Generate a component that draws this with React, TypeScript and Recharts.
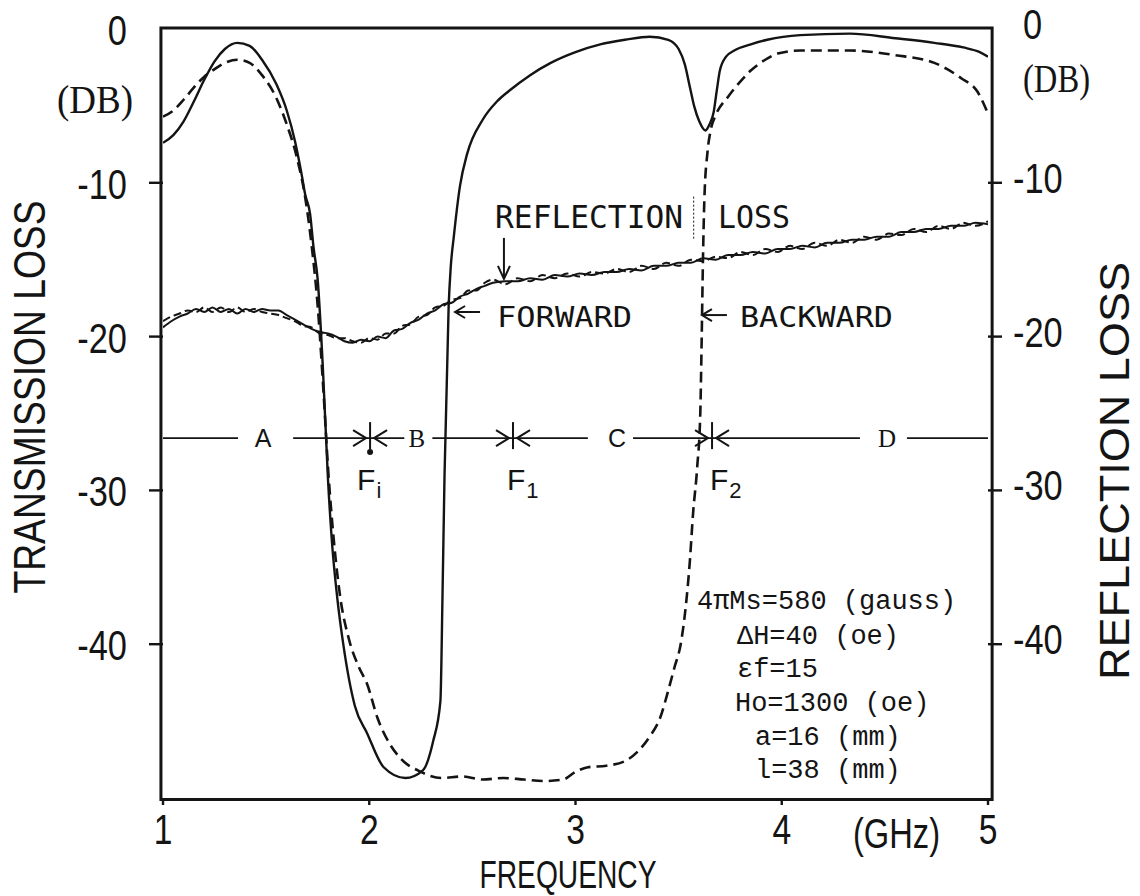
import React from 'react';
import { LineChart, Line, XAxis, YAxis, ReferenceArea, ReferenceLine, ReferenceDot } from 'recharts';

const INK = '#141414';
const SANS = "'Liberation Sans', 'DejaVu Sans', sans-serif";
const SERIF = "'Liberation Serif', 'DejaVu Serif', serif";
const TYPE = "'DejaVu Sans Mono', monospace";
const COURIER = "'Liberation Mono', 'DejaVu Sans Mono', monospace";

// axes
const freqTicks = [1, 2, 3, 4, 5];
const lossTicks = [0, -10, -20, -30, -40];

// transmission loss, forward wave (solid) [GHz, dB]
const forwardTransmission: [number, number][] = [
  [1.0, -7.4], [1.05, -6.9], [1.1, -6.0], [1.15, -4.7], [1.2, -3.3], [1.25, -2.1], [1.3, -1.3],
  [1.36, -0.9], [1.42, -1.1], [1.48, -2.0], [1.55, -3.6], [1.6, -5.3], [1.64, -7.3], [1.67, -9.3],
  [1.69, -10.8], [1.713, -12.0], [1.73, -14.2], [1.75, -16.3], [1.775, -22], [1.8, -29.3],
  [1.82, -33.5], [1.845, -37], [1.874, -40], [1.93, -44], [1.99, -45.8], [2.07, -48.0],
  [2.175, -48.7], [2.26, -48.2], [2.31, -46.3], [2.345, -43.7], [2.355, -37], [2.365, -29],
  [2.385, -18], [2.395, -15.5], [2.41, -13.5], [2.44, -10.2], [2.475, -8.1], [2.55, -5.9],
  [2.62, -4.7], [2.68, -4.0], [2.78, -3.0], [2.88, -2.2], [3.0, -1.5], [3.12, -1.0], [3.24, -0.7],
  [3.36, -0.5], [3.45, -0.7], [3.5, -1.3], [3.53, -2.3], [3.555, -3.8], [3.575, -5.0], [3.6, -6.0],
  [3.63, -6.6], [3.65, -6.2], [3.67, -5.4], [3.685, -4.0], [3.7, -2.7], [3.73, -1.8], [3.77, -1.4],
  [3.85, -1.0], [3.93, -0.7], [4.09, -0.4], [4.33, -0.3], [4.55, -0.6], [4.74, -0.9], [4.88, -1.2],
  [4.96, -1.5], [5.0, -1.8],
];

// transmission loss, backward wave (dashed)
const backwardTransmission: [number, number][] = [
  [1.0, -5.7], [1.05, -5.3], [1.1, -4.6], [1.15, -3.8], [1.2, -3.1], [1.24, -2.7], [1.3, -2.2],
  [1.36, -2.0], [1.42, -2.2], [1.48, -3.0], [1.55, -4.5], [1.6, -6.2], [1.65, -8.4], [1.69, -11.0],
  [1.72, -14], [1.75, -18], [1.78, -24], [1.8, -28.5], [1.83, -33.5], [1.86, -37], [1.9, -39.6],
  [1.95, -41.5], [1.99, -42.6], [2.04, -44.8], [2.1, -46.5], [2.15, -47.4], [2.25, -48.3],
  [2.35, -48.7], [2.45, -48.6], [2.55, -48.8], [2.65, -48.7], [2.75, -48.8], [2.85, -48.9],
  [2.94, -48.8], [3.0, -48.3], [3.06, -48.0], [3.15, -47.9], [3.24, -47.6], [3.3, -47.0],
  [3.36, -46.0], [3.41, -44.8], [3.45, -43.0], [3.48, -41.5], [3.51, -40.0], [3.535, -37.5],
  [3.555, -34.5], [3.57, -31.5], [3.59, -28.5], [3.605, -25], [3.612, -20], [3.618, -15],
  [3.625, -11], [3.64, -8], [3.655, -6.6], [3.68, -5.6], [3.74, -4.4], [3.8, -3.4], [3.85, -2.7],
  [3.92, -2.0], [3.98, -1.6], [4.09, -1.4], [4.33, -1.4], [4.55, -1.7], [4.74, -2.2], [4.8, -2.6],
  [4.87, -3.2], [4.95, -4.1], [5.0, -5.5],
];

// reflection loss, forward (solid) and backward (dashed)
const forwardReflection: [number, number][] = [
  [1.0, -19.4], [1.04, -19.0], [1.08, -18.7], [1.12, -18.5], [1.16, -18.2], [1.2, -18.4], [1.24, -18.1],
  [1.28, -18.4], [1.32, -18.2], [1.36, -18.5], [1.4, -18.2], [1.44, -18.4], [1.48, -18.2], [1.52, -18.3],
  [1.56, -18.3], [1.6, -18.6], [1.64, -18.9], [1.68, -19.2], [1.72, -19.5], [1.76, -19.7], [1.8, -19.8],
  [1.84, -20.0], [1.88, -20.3], [1.92, -20.4], [1.96, -20.2], [2.0, -20.3], [2.04, -20.0], [2.08, -20.1],
  [2.12, -19.6], [2.16, -19.5], [2.2, -19.1], [2.24, -18.9], [2.28, -18.5], [2.32, -18.3], [2.36, -17.9],
  [2.4, -17.8], [2.44, -17.4], [2.48, -17.2], [2.52, -16.9], [2.56, -16.7], [2.6, -16.5], [2.66, -16.4],
  [2.72, -16.4], [2.78, -16.2], [2.84, -16.3], [2.9, -16.0], [2.96, -16.1], [3.02, -15.9], [3.08, -16.0],
  [3.14, -15.8], [3.2, -15.8], [3.26, -15.6], [3.32, -15.7], [3.38, -15.4], [3.44, -15.4], [3.5, -15.2],
  [3.56, -15.2], [3.62, -14.9], [3.68, -15.0], [3.74, -14.7], [3.8, -14.7], [3.86, -14.5], [3.92, -14.6],
  [3.98, -14.3], [4.04, -14.3], [4.1, -14.1], [4.16, -14.2], [4.22, -13.9], [4.28, -13.9], [4.34, -13.7],
  [4.4, -13.7], [4.46, -13.5], [4.52, -13.5], [4.58, -13.2], [4.64, -13.2], [4.7, -13.0], [4.76, -13.0],
  [4.82, -12.8], [4.88, -12.8], [4.94, -12.6], [5.0, -12.7],
];

const backwardReflection: [number, number][] = [
  [1.0, -19.0], [1.04, -18.7], [1.08, -18.5], [1.12, -18.3], [1.16, -18.4], [1.2, -18.1], [1.24, -18.4],
  [1.28, -18.1], [1.32, -18.4], [1.36, -18.1], [1.4, -18.4], [1.44, -18.2], [1.48, -18.4], [1.52, -18.5],
  [1.56, -18.6], [1.6, -18.8], [1.64, -19.0], [1.68, -19.3], [1.72, -19.4], [1.76, -19.8], [1.8, -19.9],
  [1.84, -20.1], [1.88, -20.1], [1.92, -20.3], [1.96, -20.4], [2.0, -20.1], [2.04, -20.2], [2.08, -19.8],
  [2.12, -19.8], [2.16, -19.3], [2.2, -19.2], [2.24, -18.7], [2.28, -18.6], [2.32, -18.1], [2.36, -18.0],
  [2.4, -17.6], [2.44, -17.5], [2.48, -17.0], [2.52, -17.0], [2.56, -16.5], [2.6, -16.3], [2.66, -16.6],
  [2.72, -16.2], [2.78, -16.4], [2.84, -16.0], [2.9, -16.2], [2.96, -15.9], [3.02, -16.1], [3.08, -15.8],
  [3.14, -15.9], [3.2, -15.6], [3.26, -15.8], [3.32, -15.4], [3.38, -15.6], [3.44, -15.2], [3.5, -15.4],
  [3.56, -15.0], [3.62, -15.1], [3.68, -14.8], [3.74, -14.9], [3.8, -14.5], [3.86, -14.7], [3.92, -14.3],
  [3.98, -14.5], [4.04, -14.1], [4.1, -14.3], [4.16, -13.9], [4.22, -14.1], [4.28, -13.7], [4.34, -13.9],
  [4.4, -13.5], [4.46, -13.7], [4.52, -13.3], [4.58, -13.4], [4.64, -13.0], [4.7, -13.2], [4.76, -12.8],
  [4.82, -13.0], [4.88, -12.6], [4.94, -12.8], [5.0, -12.5],
];

// frequency bands A..D and boundary frequencies Fi, F1, F2
const bandLevel = -26.6;
const bandNames = ['A', 'B', 'C', 'D'];
const bandCentres = [1.485, 2.231, 3.201, 4.51];
const bandLines: [number, number][] = [
  [1.0, 1.364], [1.631, 2.004], [2.004, 2.17], [2.306, 2.697], [2.697, 3.06],
  [3.279, 3.662], [3.662, 4.379], [4.607, 5.0],
];
const boundaryFreqs = [2.004, 2.697, 3.662];
const boundarySubs = ['i', '1', '2'];

const paramLines = ['4πMs=580 (gauss)', 'ΔH=40 (oe)', 'εf=15', 'Ho=1300 (oe)', 'a=16 (mm)', 'l=38 (mm)'];

const toPoints = (pairs: [number, number][]) => pairs.map(([x, y]) => ({ x, y }));

const LeftTick = (p: any) => {
  const v = p.payload.value;
  return (
    <g>
      {v !== 0 && <line x1={p.x - 14} x2={p.x} y1={p.y} y2={p.y} stroke={INK} strokeWidth={2.4} />}
      <text transform={`translate(${p.x - 36},${p.y + 16}) scale(0.8,1)`} textAnchor="end"
        fontSize={43} fontFamily={SANS} fill={INK}>{String(v)}</text>
    </g>
  );
};

const RightTick = (p: any) => {
  const v = p.payload.value;
  return (
    <g>
      {v !== 0 && <line x1={p.x} x2={p.x + 14} y1={p.y} y2={p.y} stroke={INK} strokeWidth={2.4} />}
      <text transform={`translate(${p.x + (v === 0 ? 35 : 25)},${p.y + 10}) scale(0.8,1)`} textAnchor="start"
        fontSize={43} fontFamily={SANS} fill={INK}>{String(v)}</text>
    </g>
  );
};

const FreqTick = (p: any) => (
  <g>
    <line x1={p.x} x2={p.x} y1={p.y} y2={p.y + 7} stroke={INK} strokeWidth={2.4} />
    <text transform={`translate(${p.x},${p.y + 46}) scale(0.8,1)`} textAnchor="middle"
      fontSize={42} fontFamily={SANS} fill={INK}>{p.payload.value}</text>
  </g>
);

const note = (text: string, o: { dx?: number; dy?: number; size: number; family: string; len?: number; anchor?: string }) =>
  (p: any) => (
    <text x={p.cx + (o.dx ?? 0)} y={p.cy + (o.dy ?? 0)} fontSize={o.size} fontFamily={o.family}
      textAnchor={o.anchor ?? 'start'} fill={INK}
      textLength={o.len} lengthAdjust={o.len ? 'spacingAndGlyphs' : undefined}>{text}</text>
  );

const arrowDown = (len: number) => (p: any) => (
  <g stroke={INK} strokeWidth={2} fill="none">
    <line x1={p.cx} y1={p.cy - len} x2={p.cx} y2={p.cy} />
    <path d={`M${p.cx - 6},${p.cy - 13} L${p.cx},${p.cy} L${p.cx + 6},${p.cy - 13}`} />
  </g>
);

const arrowLeft = (len: number, label: string, dx: number, dy: number, width: number) => (p: any) => (
  <g>
    <g stroke={INK} strokeWidth={2} fill="none">
      <line x1={p.cx} y1={p.cy} x2={p.cx + len} y2={p.cy} />
      <path d={`M${p.cx + 10},${p.cy - 6} L${p.cx},${p.cy} L${p.cx + 10},${p.cy + 6}`} />
    </g>
    <text x={p.cx + dx} y={p.cy + dy} fontSize={28} fontFamily={TYPE} fill={INK}
      textLength={width} lengthAdjust="spacingAndGlyphs">{label}</text>
  </g>
);

const boundaryShape = (withDot: boolean) => (p: any) => (
  <g stroke={INK} strokeWidth={2} fill="none">
    <line x1={p.cx} y1={p.cy - 16} x2={p.cx} y2={p.cy + 11} />
    <path d={`M${p.cx - 17},${p.cy - 8} L${p.cx - 4},${p.cy} L${p.cx - 17},${p.cy + 8}`} />
    <path d={`M${p.cx + 17},${p.cy - 8} L${p.cx + 4},${p.cy} L${p.cx + 17},${p.cy + 8}`} />
    {withDot && <circle cx={p.cx} cy={p.cy + 14} r={3} fill={INK} stroke="none" />}
  </g>
);

const boundaryLabel = (sub: string, dx: number) => (p: any) => (
  <text x={p.cx + dx} y={p.cy + 52} fontSize={30} fontFamily={SANS} fill={INK}>
    F<tspan dx={1} dy={8} fontSize={22}>{sub}</tspan>
  </text>
);

const paramBlock = (p: any) => {
  const dx = [0, 40, 40, 38, 58, 58];
  const dy = [0, 35, 68, 102, 136, 169];
  return (
    <g>
      {paramLines.map((t, i) => (
        <text key={t} x={p.cx + dx[i]} y={p.cy + dy[i]} fontSize={27} fontFamily={COURIER} fill={INK}>{t}</text>
      ))}
    </g>
  );
};

const leftTitle = () => (
  <g>
    <text transform="translate(45,397) rotate(-90)" textAnchor="middle" fontSize={44} fontFamily={SANS} fill={INK}
      textLength={393} lengthAdjust="spacingAndGlyphs">TRANSMISSION LOSS</text>
    <text x={57} y={113} fontSize={40} fontFamily={SERIF} fill={INK} textLength={76}
      lengthAdjust="spacingAndGlyphs">(DB)</text>
  </g>
);

const rightTitle = () => (
  <g>
    <text transform="translate(1129,471) rotate(-90)" textAnchor="middle" fontSize={43} fontFamily={SANS} fill={INK}
      textLength={418} lengthAdjust="spacingAndGlyphs">REFLECTION LOSS</text>
    <text x={1023} y={92} fontSize={40} fontFamily={SERIF} fill={INK} textLength={67}
      lengthAdjust="spacingAndGlyphs">(DB)</text>
  </g>
);

const bottomTitle = () => (
  <g>
    <text x={568} y={887.5} textAnchor="middle" fontSize={38} fontFamily={SANS} fill={INK}
      textLength={177} lengthAdjust="spacingAndGlyphs">FREQUENCY</text>
    <text x={853} y={848} fontSize={42} fontFamily={SANS} fill={INK}
      textLength={87} lengthAdjust="spacingAndGlyphs">(GHz)</text>
  </g>
);

export default function App() {
  return (
    <div style={{ position: 'absolute', left: 0, top: 0, width: 1140, height: 896, background: '#fff' }}>
      <LineChart width={1140} height={896} margin={{ top: 29, right: 72, bottom: 38, left: 83 }}>
        <XAxis xAxisId="f" type="number" dataKey="x" domain={[1, 5]} ticks={freqTicks} interval={0}
          allowDataOverflow height={60} axisLine={false} tickLine={false} tickSize={0} tickMargin={0}
          tick={(p: any) => <FreqTick {...p} />} label={bottomTitle} />
        <YAxis yAxisId="left" type="number" domain={[-50, 0]} ticks={lossTicks} interval={0}
          allowDataOverflow width={80} axisLine={false} tickLine={false} tickSize={0} tickMargin={0}
          tick={(p: any) => <LeftTick {...p} />} label={leftTitle} />
        <YAxis yAxisId="right" orientation="right" type="number" domain={[-50, 0]} ticks={lossTicks} interval={0}
          allowDataOverflow width={80} axisLine={false} tickLine={false} tickSize={0} tickMargin={0}
          tick={(p: any) => <RightTick {...p} />} label={rightTitle} />

        <ReferenceArea xAxisId="f" yAxisId="left" x1={0.99} x2={5.02} y1={-50.1} y2={0.06} ifOverflow="visible"
          fill="none" stroke={INK} strokeWidth={3} />

        {bandLines.map(([a, b], i) => (
          <ReferenceLine key={`seg-${i}`} xAxisId="f" yAxisId="left"
            segment={[{ x: a, y: bandLevel }, { x: b, y: bandLevel }]} stroke={INK} strokeWidth={1.8} />
        ))}
        {bandNames.map((n, i) => (
          <ReferenceDot key={`band-${n}`} xAxisId="f" yAxisId="left" x={bandCentres[i]} y={bandLevel} r={1}
            shape={note(n, { dy: 9, size: 25, family: i % 2 ? SERIF : SANS, anchor: 'middle' })} />
        ))}
        {boundaryFreqs.map((f, i) => (
          <ReferenceDot key={`bnd-${i}`} xAxisId="f" yAxisId="left" x={f} y={bandLevel} r={1}
            shape={boundaryShape(i === 0)} />
        ))}
        {boundaryFreqs.map((f, i) => (
          <ReferenceDot key={`bl-${i}`} xAxisId="f" yAxisId="left" x={f} y={bandLevel} r={1}
            shape={boundaryLabel(boundarySubs[i], [-13, -6, -2][i])} />
        ))}

        <ReferenceDot xAxisId="f" yAxisId="left" x={2.61} y={-12.97} r={1}
          shape={note('REFLECTION', { size: 32, family: TYPE, len: 188 })} />
        <ReferenceDot xAxisId="f" yAxisId="left" x={3.691} y={-12.97} r={1}
          shape={note('LOSS', { size: 32, family: TYPE, len: 72 })} />
        <ReferenceLine xAxisId="f" yAxisId="left" segment={[{ x: 3.573, y: -10.9 }, { x: 3.573, y: -13.7 }]}
          stroke={INK} strokeWidth={1} strokeDasharray="2 2" />
        <ReferenceDot xAxisId="f" yAxisId="left" x={2.653} y={-16.25} r={1} shape={arrowDown(41)} />
        <ReferenceDot xAxisId="f" yAxisId="left" x={2.416} y={-18.4} r={1}
          shape={arrowLeft(25, 'FORWARD', 42, 15, 135)} />
        <ReferenceDot xAxisId="f" yAxisId="left" x={3.613} y={-18.6} r={1}
          shape={arrowLeft(25, 'BACKWARD', 38, 12, 153)} />
        <ReferenceDot xAxisId="f" yAxisId="left" x={3.589} y={-37.71} r={1} shape={paramBlock} />

        <Line xAxisId="f" yAxisId="left" data={toPoints(forwardReflection)} dataKey="y" type="monotone"
          stroke={INK} strokeWidth={2} dot={false} activeDot={false} isAnimationActive={false} />
        <Line xAxisId="f" yAxisId="left" data={toPoints(backwardReflection)} dataKey="y" type="monotone"
          stroke={INK} strokeWidth={2} strokeDasharray="8 4" dot={false} activeDot={false} isAnimationActive={false} />
        <Line xAxisId="f" yAxisId="left" data={toPoints(forwardTransmission)} dataKey="y" type="monotone"
          stroke={INK} strokeWidth={2.4} dot={false} activeDot={false} isAnimationActive={false} />
        <Line xAxisId="f" yAxisId="left" data={toPoints(backwardTransmission)} dataKey="y" type="monotone"
          stroke={INK} strokeWidth={2.6} strokeDasharray="11 6" dot={false} activeDot={false} isAnimationActive={false} />
      </LineChart>
    </div>
  );
}
